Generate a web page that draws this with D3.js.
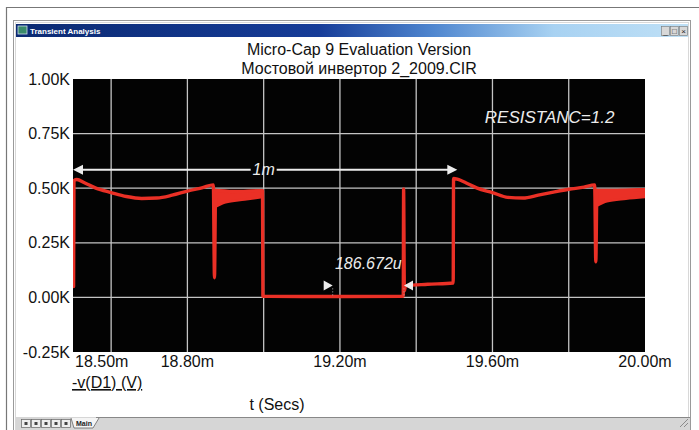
<!DOCTYPE html>
<html><head><meta charset="utf-8">
<script src="https://cdn.jsdelivr.net/npm/d3@7"></script>
<style>
body{margin:0;background:#fff;}
svg{display:block;font-family:"Liberation Sans",Arial,Helvetica,sans-serif;}
</style>
</head><body>
<svg id="c" width="699" height="430"></svg>
<script>
// ---------- data ----------
const titleLines = ["Micro-Cap 9 Evaluation Version", "Мостовой инвертор 2_2009.CIR"];
const xTicks = [18.5, 18.8, 19.2, 19.6, 20.0];
const xTickLabels = ["18.50m", "18.80m", "19.20m", "19.60m", "20.00m"];
const xGrid = [18.6, 18.8, 19.0, 19.2, 19.4, 19.6, 19.8];
const yTicks = [1.0, 0.75, 0.5, 0.25, 0.0, -0.25];
const yTickLabels = ["1.00K", "0.75K", "0.50K", "0.25K", "0.00K", "-0.25K"];

// -v(D1) waveform, time in ms, value in kV
const waveT = [18.5015, 18.5025, 18.51, 18.53, 18.56, 18.60, 18.64, 18.68, 18.72, 18.76, 18.80, 18.84, 18.868, 18.871, 18.874,
               18.92, 18.997, 18.998, 19.10, 19.366, 19.367, 19.369, 19.372, 19.43, 19.497, 19.498,
               19.51, 19.53, 19.56, 19.60, 19.64, 19.68, 19.72, 19.76, 19.80, 19.84, 19.868, 19.871, 19.874, 19.94, 20.0];
const waveV = [0.05, 0.535, 0.54, 0.525, 0.50, 0.48, 0.462, 0.453, 0.455, 0.468, 0.487, 0.503, 0.515, 0.09, 0.49,
               0.485, 0.488, 0.005, 0.004, 0.005, 0.497, 0.03, 0.053, 0.06, 0.066, 0.545,
               0.54, 0.525, 0.50, 0.48, 0.458, 0.455, 0.468, 0.482, 0.495, 0.505, 0.515, 0.163, 0.49, 0.49, 0.493];

// high-frequency ripple bands (envelope)
const band1T = [18.874, 18.90, 18.95, 18.997];
const band1Hi = [0.49, 0.483, 0.486, 0.49];
const band1Lo = [0.415, 0.435, 0.448, 0.46];
const band2T = [19.874, 19.90, 19.95, 20.0];
const band2Hi = [0.49, 0.49, 0.492, 0.495];
const band2Lo = [0.42, 0.44, 0.452, 0.46];

// annotations
const periodT = [18.5, 19.5];
const periodLevel = 0.585;
const periodLabel = "1m";
const measT = [19.181, 19.368];
const measLevel = 0.055;
const measLabel = "186.672u";
const measLabelLevel = 0.155;
const paramLabel = "RESISTANC=1.2";
const paramT = 19.58, paramLevel = 0.80;
const yAxisLabel = "-v(D1) (V)";
const xAxisLabel = "t (Secs)";

// ---------- layout ----------
const svg = d3.select("#c");
const L = 73, R = 645, T = 79, B = 352;
const x = d3.scaleLinear().domain([18.5, 20.0]).range([L, R]);
const y = d3.scaleLinear().domain([-0.25, 1.0]).range([B, T]);
const RED = "#ea3026", WHITE = "#ececec";

// ---------- window chrome ----------
svg.append("rect").attr("width", 699).attr("height", 430).attr("fill", "#fff");
svg.append("path").attr("d", "M6.5,430 V7.5 H699").attr("fill", "none").attr("stroke", "#777").attr("stroke-width", 1.2);
svg.append("rect").attr("x", 13.5).attr("y", 20.5).attr("width", 677).attr("height", 415)
  .attr("fill", "#fff").attr("stroke", "#9a9a9a");
svg.append("rect").attr("x", 15.5).attr("y", 22.5).attr("width", 673).attr("height", 410)
  .attr("fill", "none").attr("stroke", "#d8d8d8");
const defs = svg.append("defs");
const g1 = defs.append("linearGradient").attr("id", "tb");
[[0, "#0b2a72"], [0.45, "#163c98"], [0.62, "#4f86cf"], [0.8, "#a8d2f2"], [1, "#bfe0f6"]]
  .forEach(([o, c]) => g1.append("stop").attr("offset", o).attr("stop-color", c));
svg.append("rect").attr("x", 16).attr("y", 24).attr("width", 672).attr("height", 13).attr("fill", "url(#tb)");
svg.append("rect").attr("x", 18).attr("y", 26).attr("width", 9).attr("height", 8).attr("fill", "#3a8a6a").attr("stroke", "#cde").attr("stroke-width", 0.8);
svg.append("text").attr("x", 30).attr("y", 34).attr("fill", "#fff").attr("font-size", 8).attr("font-weight", "bold")
  .text("Transient Analysis");
const btns = ["_", "□", "×"];
btns.forEach((b, i) => {
  const bx = 661 + i * 9;
  svg.append("rect").attr("x", bx + 0.5).attr("y", 26.5).attr("width", 8).attr("height", 9).attr("fill", "#d8d8d8").attr("stroke", "#777").attr("stroke-width", 0.6);
  svg.append("text").attr("x", bx + 4.5).attr("y", 34).attr("text-anchor", "middle").attr("font-size", 8).attr("fill", "#222").text(b);
});
// bottom tab bar
svg.append("rect").attr("x", 16).attr("y", 417).attr("width", 674).attr("height", 13).attr("fill", "#d6d6d6");
svg.append("line").attr("x1", 96).attr("x2", 690).attr("y1", 417.5).attr("y2", 417.5).attr("stroke", "#888");
for (let i = 0; i < 5; i++) {
  svg.append("rect").attr("x", 21.5 + i * 10).attr("y", 419.5).attr("width", 9).attr("height", 8).attr("fill", "#eee").attr("stroke", "#666").attr("stroke-width", 0.7);
  svg.append("rect").attr("x", 24.5 + i * 10).attr("y", 422).attr("width", 3).attr("height", 3).attr("fill", "#444");
}
svg.append("path").attr("d", "M71,418 L74,428 H93 L99,418").attr("fill", "#f4f4f4").attr("stroke", "#666").attr("stroke-width", 0.8);
svg.append("text").attr("x", 76).attr("y", 426).attr("font-size", 7).attr("font-weight", "bold").attr("fill", "#222").text("Main");
svg.append("path").attr("d", "M680,427 L688,419 M684,427 L688,423").attr("stroke", "#777").attr("stroke-width", 0.8);

// ---------- titles ----------
svg.selectAll("text.title").data(titleLines).join("text").attr("class", "title")
  .attr("x", (L + R) / 2).attr("y", (d, i) => 55 + i * 19).attr("text-anchor", "middle")
  .attr("font-size", 16).attr("fill", "#111").text(d => d);

// ---------- plot ----------
svg.append("rect").attr("x", L).attr("y", T).attr("width", R - L).attr("height", B - T).attr("fill", "#030303");
defs.append("clipPath").attr("id", "clip").append("rect").attr("x", L).attr("y", T).attr("width", R - L).attr("height", B - T);
const plot = svg.append("g").attr("clip-path", "url(#clip)");

plot.selectAll("line.vg").data(xGrid).join("line").attr("class", "vg")
  .attr("x1", d => x(d)).attr("x2", d => x(d)).attr("y1", T).attr("y2", B)
  .attr("stroke", "#c4c4c4").attr("stroke-width", 1.3);
plot.selectAll("line.hg").data(yTicks.filter(v => v > -0.25 && v < 1.0)).join("line").attr("class", "hg")
  .attr("y1", d => y(d)).attr("y2", d => y(d)).attr("x1", L).attr("x2", R)
  .attr("stroke", "#c4c4c4").attr("stroke-width", 1.3);

// ripple bands
const area = d3.area().x(d => x(d[0])).y0(d => y(d[2])).y1(d => y(d[1])).curve(d3.curveMonotoneX);
[[band1T, band1Hi, band1Lo], [band2T, band2Hi, band2Lo]].forEach(([t, hi, lo]) => {
  plot.append("path").datum(t.map((tt, i) => [tt, hi[i], lo[i]]))
    .attr("d", area).attr("fill", RED).attr("stroke", RED).attr("stroke-width", 2.5).attr("stroke-linejoin", "round");
});

// main trace
const line = d3.line().x(d => x(d[0])).y(d => y(d[1])).curve(d3.curveMonotoneX);
plot.append("path").datum(waveT.map((t, i) => [t, waveV[i]]))
  .attr("d", line).attr("fill", "none").attr("stroke", RED).attr("stroke-width", 3.4)
  .attr("stroke-linejoin", "round").attr("stroke-linecap", "round");

// period dimension "1m"
const py = y(periodLevel);
const pmid = (x(periodT[0]) + x(periodT[1])) / 2;
plot.append("line").attr("x1", x(periodT[0]) + 6).attr("x2", pmid - 13).attr("y1", py).attr("y2", py).attr("stroke", WHITE).attr("stroke-width", 2);
plot.append("line").attr("x1", pmid + 13).attr("x2", x(periodT[1]) - 6).attr("y1", py).attr("y2", py).attr("stroke", WHITE).attr("stroke-width", 2);
plot.append("path").attr("d", `M${x(periodT[0])},${py} l10,-5 v10 z`).attr("fill", WHITE);
plot.append("path").attr("d", `M${x(periodT[1]) + 3},${py} l-10,-5 v10 z`).attr("fill", WHITE);
plot.append("text").attr("x", pmid).attr("y", py).attr("dy", "0.35em").attr("text-anchor", "middle")
  .attr("font-size", 16).attr("font-style", "italic").attr("fill", WHITE).text(periodLabel);

// measurement "186.672u"
const my = y(measLevel);
plot.append("path").attr("d", `M${x(measT[0])},${my} l-9,-5 v10 z`).attr("fill", WHITE);
plot.append("path").attr("d", `M${x(measT[1])},${my} l9,-5 v10 z`).attr("fill", WHITE);
measT.forEach(t => plot.append("line").attr("x1", x(t)).attr("x2", x(t)).attr("y1", my + 3).attr("y2", y(0) - 1)
  .attr("stroke", "#aaa").attr("stroke-width", 1).attr("stroke-dasharray", "1,2"));
plot.append("text").attr("x", (x(measT[0]) + x(measT[1])) / 2).attr("y", y(measLabelLevel)).attr("dy", "0.35em")
  .attr("text-anchor", "middle").attr("font-size", 16).attr("font-style", "italic").attr("fill", WHITE).text(measLabel);

// parameter label
plot.append("text").attr("x", x(paramT)).attr("y", y(paramLevel)).attr("font-size", 17).attr("font-style", "italic")
  .attr("fill", WHITE).text(paramLabel);

// ---------- axes labels ----------
svg.selectAll("text.yt").data(yTicks).join("text").attr("class", "yt")
  .attr("x", 70).attr("y", d => y(d)).attr("dy", "0.35em").attr("text-anchor", "end")
  .attr("font-size", 16).attr("fill", "#111").text((d, i) => yTickLabels[i]);
svg.selectAll("text.xt").data(xTicks).join("text").attr("class", "xt")
  .attr("x", (d, i) => i === 0 ? x(d) + 2 : x(d)).attr("y", 367)
  .attr("text-anchor", (d, i) => i === 0 ? "start" : "middle")
  .attr("font-size", 16).attr("fill", "#111").text((d, i) => xTickLabels[i]);
svg.append("text").attr("x", L - 1).attr("y", 388).attr("font-size", 16).attr("fill", "#111")
  .attr("text-decoration", "underline").text(yAxisLabel);
svg.append("text").attr("x", 277).attr("y", 410).attr("text-anchor", "middle").attr("font-size", 16).attr("fill", "#111").text(xAxisLabel);
</script>
</body></html>
